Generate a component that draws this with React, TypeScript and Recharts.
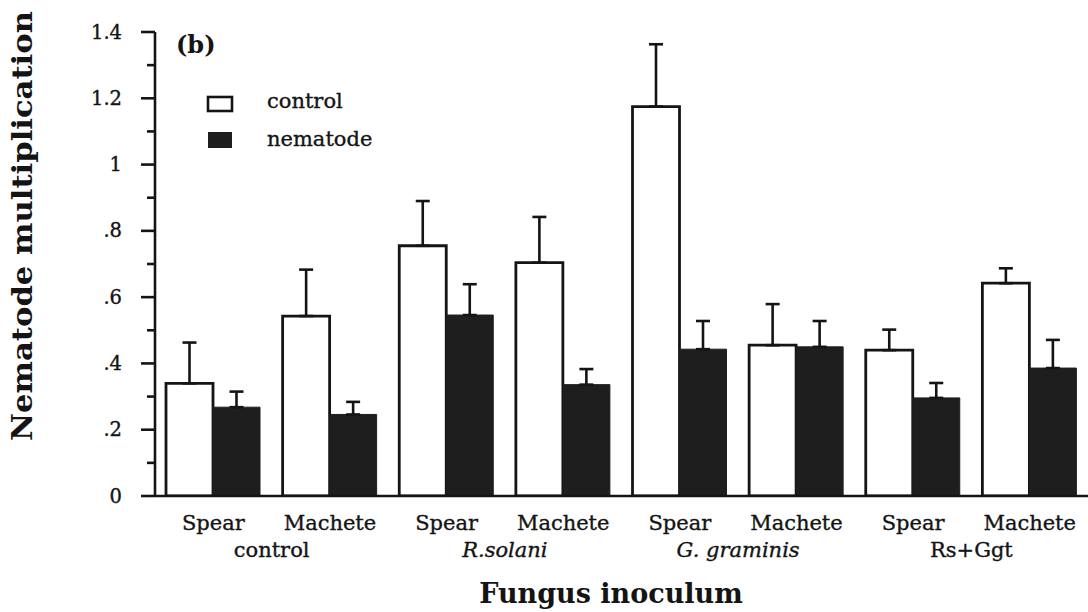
import React from 'react';
import { BarChart, Bar, XAxis, YAxis, ErrorBar } from 'recharts';

const cultivars = ['Spear', 'Machete', 'Spear', 'Machete', 'Spear', 'Machete', 'Spear', 'Machete'];
const fungi = ['control', 'control', 'R.solani', 'R.solani', 'G. graminis', 'G. graminis', 'Rs+Ggt', 'Rs+Ggt'];
const italicFungi = ['R.solani', 'G. graminis'];
const controlValues = [0.34, 0.543, 0.755, 0.704, 1.175, 0.455, 0.44, 0.642];
const controlErrors = [0.123, 0.14, 0.135, 0.138, 0.188, 0.124, 0.062, 0.045];
const nematodeValues = [0.268, 0.246, 0.546, 0.336, 0.443, 0.45, 0.296, 0.386];
const nematodeErrors = [0.047, 0.038, 0.093, 0.047, 0.085, 0.078, 0.045, 0.085];
const yTicks = [0, 0.1, 0.2, 0.3, 0.4, 0.5, 0.6, 0.7, 0.8, 0.9, 1, 1.1, 1.2, 1.3, 1.4];

const data = cultivars.map((c, i) => ({
  cat: c + '-' + i,
  cultivar: c,
  fungus: fungi[i],
  control: controlValues[i],
  controlErr: [0, controlErrors[i]],
  nematode: nematodeValues[i],
  nematodeErr: [0, nematodeErrors[i]],
}));

const FONT = '"DejaVu Serif", serif';
const INK = '#141414';
const THICK = { stroke: INK, strokeWidth: 0.35 };

const fmtY = (v: number) => {
  const r = Math.round(v * 10) / 10;
  if (r === 0) return '0';
  if (r === 1) return '1';
  if (r < 1) return '.' + Math.round(r * 10);
  return r.toFixed(1);
};

const YTick = (props: any) => {
  const { x, y, payload } = props;
  const v = payload.value as number;
  const major = Math.round(v * 10) % 2 === 0;
  return (
    <g>
      <line x1={x - (major ? 14 : 8)} x2={x} y1={y} y2={y} stroke={INK} strokeWidth={2.6} />
      {major && (
        <text x={x - 33} y={y} textAnchor="end" dominantBaseline="central" fontFamily={FONT} fontSize={19.5} fill={INK} {...THICK}>
          {fmtY(v)}
        </text>
      )}
    </g>
  );
};

const CatTick = (props: any) => {
  const { x, y, payload } = props;
  const label = String(payload.value).split('-')[0];
  return (
    <text x={x} y={y + 34} textAnchor="middle" fontFamily={FONT} fontSize={21} fill={INK} {...THICK}>
      {label}
    </text>
  );
};

const FungusTick = (props: any) => {
  const { x, y, payload } = props;
  const label = String(payload.value);
  return (
    <text
      x={x}
      y={y + 31}
      textAnchor="middle"
      fontFamily={FONT}
      fontSize={21}
      fontStyle={italicFungi.includes(label) ? 'italic' : 'normal'}
      fill={INK}
      {...THICK}
    >
      {label}
    </text>
  );
};

export default function App() {
  return (
    <div style={{ position: 'absolute', left: 0, top: 0, width: 1088, height: 612, background: '#fff' }}>
      <BarChart
        width={1088}
        height={612}
        data={data}
        margin={{ top: 32, right: 0, bottom: 56, left: 0 }}
        barSize={47}
        barGap={0}
      >
        <XAxis
          dataKey="cat"
          height={30}
          tickLine={false}
          tickSize={0}
          tickMargin={0}
          interval={0}
          axisLine={{ stroke: INK, strokeWidth: 2.6 }}
          tick={<CatTick />}
        />
        <XAxis
          xAxisId="fungus"
          dataKey="fungus"
          allowDuplicatedCategory={false}
          height={30}
          tickLine={false}
          tickSize={0}
          tickMargin={0}
          interval={0}
          axisLine={false}
          tick={<FungusTick />}
        />
        <YAxis
          type="number"
          domain={[0, 1.4]}
          ticks={yTicks}
          interval={0}
          width={155}
          tickLine={false}
          tickSize={0}
          tickMargin={0}
          axisLine={{ stroke: INK, strokeWidth: 2.6 }}
          tick={<YTick />}
          allowDataOverflow
        />
        <Bar dataKey="control" fill="#ffffff" stroke={INK} strokeWidth={2.8} isAnimationActive={false}>
          <ErrorBar dataKey="controlErr" direction="y" width={7} stroke={INK} strokeWidth={2.6} isAnimationActive={false} />
        </Bar>
        <Bar dataKey="nematode" fill="#1e1e1e" stroke="#1e1e1e" strokeWidth={1} isAnimationActive={false}>
          <ErrorBar dataKey="nematodeErr" direction="y" width={7} stroke={INK} strokeWidth={2.6} isAnimationActive={false} />
        </Bar>
      </BarChart>
      <svg
        width={1088}
        height={612}
        style={{ position: 'absolute', left: 0, top: 0, pointerEvents: 'none' }}
      >
        <text x={176} y={53} fontFamily={FONT} fontWeight="bold" fontSize={24} fill={INK}>(b)</text>
        <rect x={208} y={97} width={24} height={14} fill="#fff" stroke={INK} strokeWidth={2.6} />
        <text x={267} y={108} fontFamily={FONT} fontSize={21} fill={INK} {...THICK}>control</text>
        <rect x={208} y={132} width={24} height={16} fill="#1e1e1e" />
        <text x={267} y={146} fontFamily={FONT} fontSize={21} fill={INK} {...THICK}>nematode</text>
        <text
          x={32}
          y={226}
          transform="rotate(-90 32 226)"
          textAnchor="middle"
          fontFamily={FONT}
          fontWeight="bold"
          fontSize={28}
          textLength={430}
          lengthAdjust="spacingAndGlyphs"
          fill={INK}
        >
          Nematode  multiplication
        </text>
        <text x={611} y={603} textAnchor="middle" fontFamily={FONT} fontWeight="bold" fontSize={27} fill={INK}>
          Fungus inoculum
        </text>
      </svg>
    </div>
  );
}
